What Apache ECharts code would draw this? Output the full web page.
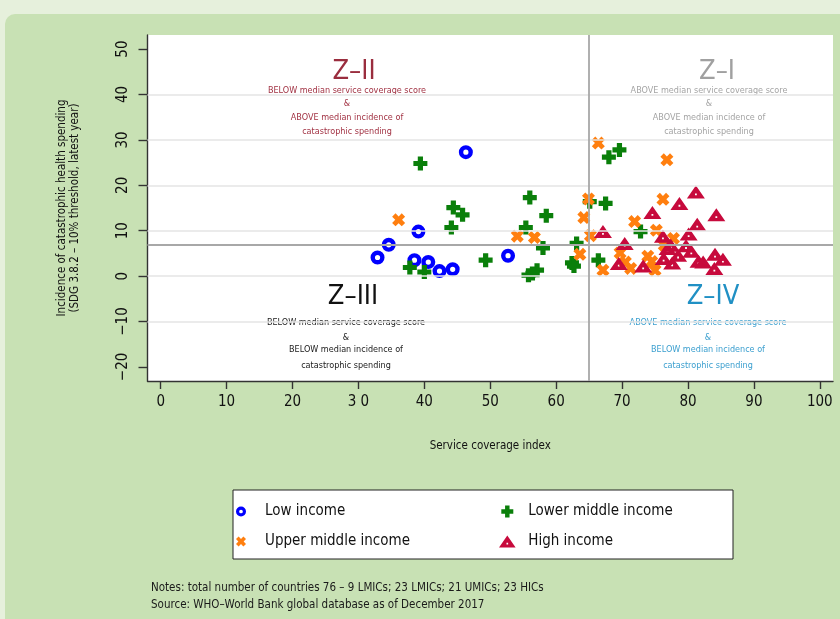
<!DOCTYPE html>
<html><head><meta charset="utf-8">
<script src="https://cdn.jsdelivr.net/npm/echarts@6/dist/echarts.min.js"></script>
<style>
html,body{margin:0;padding:0;background:#e6f0dc;overflow:hidden;}
#panel{position:absolute;left:5px;top:14px;width:900px;height:700px;background:#c8e1b4;border-top-left-radius:10px;}
#c{position:absolute;left:0;top:0;width:840px;height:619px;}
</style>
</head><body><div id="panel"></div><div id="c"></div>
<script>
const FONT = "'Liberation Sans Narrow','DejaVu Sans Condensed',sans-serif";

const xTicks = [0, 10, 20, 30, 40, 50, 60, 70, 80, 90, 100];
const xTickLabels = ['0', '10', '20', '3 0', '40', '50', '60', '70', '80', '90', '100'];
const yTicks = [-20, -10, 0, 10, 20, 30, 40, 50];
const yTickLabels = ['\u221220', '\u221210', '0', '10', '20', '30', '40', '50'];
const yGridValues = [-10, 0, 10, 20, 30, 40];
const medianX = 65;
const medianY = 7;

const lowIncome = [
  [46.3, 27.3], [39.1, 9.8], [34.6, 6.9], [32.9, 4.1], [38.5, 3.5],
  [40.6, 3.1], [42.3, 1.1], [44.3, 1.5], [52.7, 4.5]
];
const lowerMiddleIncome = [
  [39.4, 24.8], [56.0, 17.3], [44.4, 15.1], [45.8, 13.5], [58.5, 13.3],
  [44.1, 10.7], [55.4, 10.7], [58.0, 6.2], [49.3, 3.5], [37.8, 1.9],
  [40.0, 0.9], [55.8, 0.2], [57.1, 1.3], [56.4, 0.6], [63.1, 7.2],
  [62.4, 2.9], [62.7, 2.2], [68.0, 26.2], [69.6, 27.8], [65.1, 16.4],
  [67.5, 16.0], [72.8, 9.8], [66.4, 3.5]
];
const upperMiddleIncome = [
  [36.1, 12.4], [54.1, 8.8], [56.7, 8.5], [64.2, 12.9], [64.9, 17.0],
  [65.2, 8.9], [63.6, 4.8], [66.4, 29.3], [67.1, 1.3], [76.8, 25.6],
  [76.2, 16.9], [71.9, 12.0], [75.2, 10.1], [77.8, 8.3], [76.4, 6.8],
  [69.7, 5.1], [70.5, 3.1], [71.3, 1.7], [73.9, 4.4], [75.0, 1.3], [74.5, 3.2]
];
const highIncome = [
  [67.1, 9.8], [70.4, 7.2], [69.5, 2.8], [73.2, 2.2], [74.6, 14.0],
  [78.7, 16.0], [81.2, 18.5], [84.3, 13.5], [81.4, 11.4], [80.1, 9.3],
  [76.2, 8.8], [77.4, 6.8], [76.9, 6.1], [79.7, 6.7], [76.3, 3.9],
  [77.6, 2.9], [81.6, 3.3], [82.3, 3.1], [84.1, 4.8], [85.3, 3.7],
  [84.0, 1.7], [78.5, 4.6], [80.5, 5.5]
];

const RING = 'path://M0,-7A7,7 0 1,1 0,7A7,7 0 1,1 0,-7Z M0,-2.6A2.6,2.6 0 1,0 0,2.6A2.6,2.6 0 1,0 0,-2.6Z';
const PLUS = 'path://M-2.6,-7L2.6,-7L2.6,-2.6L7,-2.6L7,2.6L2.6,2.6L2.6,7L-2.6,7L-2.6,2.6L-7,2.6L-7,-2.6L-2.6,-2.6Z';
const CROSS = 'path://M2.97,-6.22L6.22,-2.97L3.25,0L6.22,2.97L2.97,6.22L0,3.25L-2.97,6.22L-6.22,2.97L-3.25,0L-6.22,-2.97L-2.97,-6.22L0,-3.25Z';
const TRI = 'path://M0,-6.5L9,6.5L-9,6.5Z M-0.9,3.2L0.9,3.2L0.9,1.4L-0.9,1.4Z';

const gridLines = yGridValues.map(v => ({ yAxis: v, lineStyle: { color: '#e4e4e4', width: 1.6, type: 'solid' } }));
const medianLines = [
  { xAxis: medianX, lineStyle: { color: '#a8a8a8', width: 1.8, type: 'solid' } },
  { yAxis: medianY, lineStyle: { color: '#a8a8a8', width: 1.8, type: 'solid' } }
];

const chart = echarts.init(document.getElementById('c'), null, { renderer: 'canvas' });

const quadrants = [
  { title: 'Z\u2013II', tx: 354, ty: 72, lx: 347, ly: [91, 104, 118, 132], color: '#a23344', tcolor: '#9a2d3e',
    lines: ['BELOW median service coverage score', '&', 'ABOVE median incidence of', 'catastrophic spending'] },
  { title: 'Z\u2013I', tx: 717, ty: 72, lx: 709, ly: [91, 104, 118, 132], color: '#a4a4a4', tcolor: '#a0a0a0',
    lines: ['ABOVE median service coverage score', '&', 'ABOVE median incidence of', 'catastrophic spending'] },
  { title: 'Z\u2013III', tx: 353, ty: 297, lx: 346, ly: [323, 338, 350, 366], color: '#1a1a1a', tcolor: '#111111',
    lines: ['BELOW median service coverage score', '&', 'BELOW median incidence of', 'catastrophic spending'] },
  { title: 'Z\u2013IV', tx: 713, ty: 297, lx: 708, ly: [323, 338, 350, 366], color: '#3b9fcf', tcolor: '#2090c4',
    lines: ['ABOVE median service coverage score', '&', 'BELOW median incidence of', 'catastrophic spending'] }
];

const graphics = [];
quadrants.forEach(q => {
  graphics.push({ type: 'text', x: q.tx, y: q.ty, silent: true,
    style: { text: q.title, fill: q.tcolor, font: '27px ' + FONT, textAlign: 'center', textVerticalAlign: 'middle' } });
  q.lines.forEach((t, i) => {
    graphics.push({ type: 'text', x: q.lx, y: q.ly[i], silent: true,
      style: { text: t, fill: q.color, font: '9px ' + FONT, textAlign: 'center', textVerticalAlign: 'middle' } });
  });
});
graphics.push({ type: 'rect', shape: { x: 233, y: 490, width: 500, height: 69 }, z: -1,
  style: { fill: '#ffffff', stroke: '#222222', lineWidth: 1 } });
graphics.push({ type: 'text', x: 151, y: 588, silent: true,
  style: { text: 'Notes: total number of countries 76 \u2013 9 LMICs; 23 LMICs; 21 UMICs; 23 HICs', fill: '#1a1a1a', font: '11.5px ' + FONT, textVerticalAlign: 'middle' } });
graphics.push({ type: 'text', x: 151, y: 605, silent: true,
  style: { text: 'Source: WHO\u2013World Bank global database as of December 2017', fill: '#1a1a1a', font: '11.5px ' + FONT, textVerticalAlign: 'middle' } });

const legendText = { fontFamily: FONT, fontSize: 15, color: '#111' };

chart.setOption({
  animation: false,
  textStyle: { fontFamily: FONT },
  grid: { left: 147.5, top: 35, right: 7, bottom: 238, show: true, backgroundColor: '#ffffff', borderWidth: 0 },
  xAxis: {
    type: 'value', min: -2, max: 102,
    name: 'Service coverage index', nameLocation: 'middle', nameGap: 59,
    nameTextStyle: { fontFamily: FONT, fontSize: 11.5, color: '#111' },
    axisLine: { show: true, onZero: false, lineStyle: { color: '#333', width: 1.4 } },
    axisTick: { show: true, length: 8, customValues: xTicks, lineStyle: { color: '#333', width: 1.4 } },
    axisLabel: { customValues: xTicks, margin: 14, fontFamily: FONT, fontSize: 15, color: '#111',
      formatter: v => xTickLabels[xTicks.indexOf(v)] },
    splitLine: { show: false }
  },
  yAxis: {
    type: 'value', min: -23.1, max: 53.1,
    name: 'Incidence of catastrophic health spending\n(SDG 3.8.2 \u2013 10% threshold, latest year)',
    nameLocation: 'middle', nameRotate: 90, nameGap: 66,
    nameTextStyle: { fontFamily: FONT, fontSize: 11.5, color: '#111', lineHeight: 13 },
    axisLine: { show: true, onZero: false, lineStyle: { color: '#333', width: 1.4 } },
    axisTick: { show: true, length: 9, customValues: yTicks, lineStyle: { color: '#333', width: 1.4 } },
    axisLabel: { customValues: yTicks, rotate: 90, margin: 17, fontFamily: FONT, fontSize: 15, color: '#111',
      formatter: v => yTickLabels[yTicks.indexOf(v)] },
    splitLine: { show: false }
  },
  legend: [
    { left: 236, top: 504, padding: 0, orient: 'vertical', itemGap: 15, itemWidth: 38, itemHeight: 10,
      textStyle: legendText, data: ['Low income', 'Upper middle income'] },
    { left: 499, top: 504, padding: 0, orient: 'vertical', itemGap: 15, itemWidth: 32, itemHeight: 12,
      textStyle: legendText, data: ['Lower middle income', 'High income'] }
  ],
  graphic: graphics,
  series: [
    { type: 'line', name: 'refs', data: [], silent: true,
      markLine: { silent: true, symbol: 'none', label: { show: false }, animation: false,
        data: gridLines.concat(medianLines) } },
    { type: 'scatter', name: 'Low income', data: lowIncome, symbol: RING, symbolSize: 14,
      itemStyle: { color: '#0000ff', opacity: 1 } },
    { type: 'scatter', name: 'Lower middle income', data: lowerMiddleIncome, symbol: PLUS, symbolSize: 14,
      itemStyle: { color: '#0a7f0a', opacity: 1 } },
    { type: 'scatter', name: 'Upper middle income', data: upperMiddleIncome, symbol: CROSS, symbolSize: 13,
      itemStyle: { color: '#ff7f0f', opacity: 1 } },
    { type: 'scatter', name: 'High income', data: highIncome, symbol: TRI, symbolSize: [18, 13],
      itemStyle: { color: '#c70a3c', opacity: 1 } }
  ]
});
</script>
</body></html>
